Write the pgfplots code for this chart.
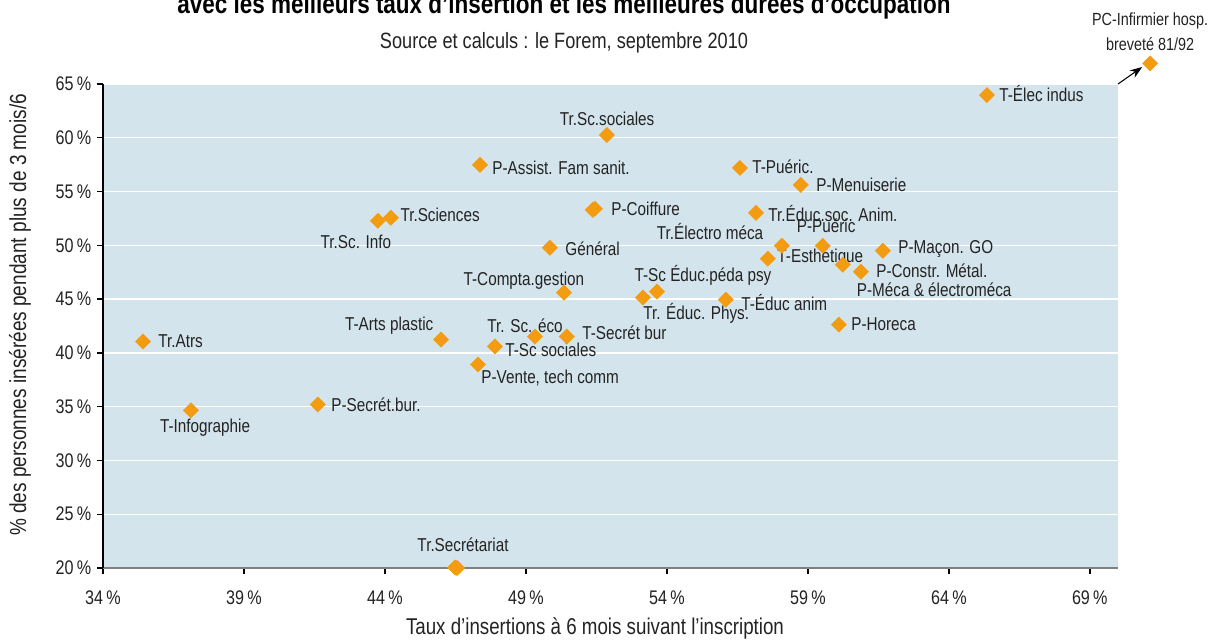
\documentclass[border=0pt]{standalone}
\usepackage{fontspec}
\IfFontExistsTF{Liberation Sans Narrow}{\setmainfont{Liberation Sans Narrow}}{\setmainfont{Liberation Sans}[FakeStretch=0.82]}
\usepackage{pgfplots}
\pgfplotsset{compat=1.18}
\usetikzlibrary{arrows.meta}

\definecolor{bgblue}{RGB}{212,228,236}
\definecolor{mk}{RGB}{243,156,18}
\definecolor{txt}{RGB}{35,35,35}

% taux d'insertion (x, %) / part > 3 mois sur 6 (y, %)
\pgfplotstableread{
x y
65.35 63.97
51.87 60.26
47.37 57.48
56.59 57.20
58.75 55.62
51.37 53.30
51.45 53.40
57.16 53.02
43.75 52.28
44.21 52.56
49.85 49.78
58.08 49.96
59.53 49.96
57.58 48.76
61.66 49.50
60.24 48.20
60.88 47.55
50.35 45.60
53.65 45.70
53.15 45.14
56.09 44.95
60.10 42.63
35.42 41.06
45.99 41.24
49.32 41.52
50.45 41.52
47.90 40.60
47.30 38.92
41.62 35.21
37.12 34.66
46.49 20.05
46.56 20.00
71.14 66.92
}\points

\begin{document}
\begin{tikzpicture}[lab/.style={font=\fontsize{10.6}{12}\selectfont, text=txt, inner sep=0pt}]
\begin{axis}[
  at={(0,0)}, anchor=south west,
  scale only axis,
  width=20.3cm, height=9.68cm,
  xmin=34, xmax=70, ymin=20, ymax=65,
  clip=false,
  axis lines*=left,
  axis line style={-},
  x axis line style={draw=gray, line width=1.4pt},
  y axis line style={draw=black, line width=1.6pt},
  axis background/.style={fill=bgblue},
  xtick={34,39,44,49,54,59,64,69},
  xticklabels={34\,\%,39\,\%,44\,\%,49\,\%,54\,\%,59\,\%,64\,\%,69\,\%},
  ytick={20,25,30,35,40,45,50,55,60,65},
  yticklabels={20\,\%,25\,\%,30\,\%,35\,\%,40\,\%,45\,\%,50\,\%,55\,\%,60\,\%,65\,\%},
  tick align=outside,
  major tick length=0.11cm,
  tick style={black, line width=0.8pt},
  ticklabel style={font=\fontsize{11.2}{13}\selectfont, text=txt},
  xticklabel style={yshift=-0.22cm},
  ymajorgrids,
  y grid style={white, line width=0.8pt},
]
\addplot[only marks, mark=square*, mark size=3pt,
  mark options={rotate=45, fill=mk, draw=mk}] table[x=x, y=y] {\points};

\node[lab, anchor=west] at (axis cs:65.78,64.07) {T-Élec indus};
\node[lab, anchor=west] at (axis cs:47.80,57.19) {P-Assist. Fam sanit.};
\node[lab, anchor=west] at (axis cs:57.02,57.28) {T-Puéric.};
\node[lab, anchor=west] at (axis cs:59.29,55.61) {P-Menuiserie};
\node[lab, anchor=west] at (axis cs:52.02,53.38) {P-Coiffure};
\node[lab, anchor=west] at (axis cs:57.59,53.00) {Tr.Éduc.soc. Anim.};
\node[lab, anchor=west] at (axis cs:44.54,52.82) {Tr.Sciences};
\node[lab, anchor=west] at (axis cs:50.39,49.66) {Général};
\node[lab, anchor=west] at (axis cs:57.91,48.82) {T-Esthétique};
\node[lab, anchor=west] at (axis cs:62.20,49.66) {P-Maçon. GO};
\node[lab, anchor=west] at (axis cs:61.42,47.61) {P-Constr. Métal.};
\node[lab, anchor=west] at (axis cs:56.63,44.64) {T-Éduc anim};
\node[lab, anchor=west] at (axis cs:60.53,42.69) {P-Horeca};
\node[lab, anchor=west] at (axis cs:35.95,41.10) {Tr.Atrs};
\node[lab, anchor=west] at (axis cs:50.99,41.85) {T-Secrét bur};
\node[lab, anchor=west] at (axis cs:48.26,40.27) {T-Sc sociales};
\node[lab, anchor=west] at (axis cs:42.09,35.15) {P-Secrét.bur.};

\node[lab] at (axis cs:51.88,61.74) {Tr.Sc.sociales};
\node[lab] at (axis cs:42.97,50.31) {Tr.Sc. Info};
\node[lab] at (axis cs:55.53,51.33) {Tr.Électro méca};
\node[lab] at (axis cs:59.65,51.80) {P-Puéric};
\node[lab] at (axis cs:63.48,45.85) {P-Méca \& électroméca};
\node[lab] at (axis cs:48.93,46.68) {T-Compta.gestion};
\node[lab] at (axis cs:55.28,47.24) {T-Sc Éduc.péda psy};
\node[lab] at (axis cs:55.04,43.71) {Tr. Éduc. Phys.};
\node[lab] at (axis cs:44.15,42.50) {T-Arts plastic};
\node[lab] at (axis cs:48.97,42.50) {Tr. Sc. éco};
\node[lab] at (axis cs:49.86,37.66) {P-Vente, tech comm};
\node[lab] at (axis cs:37.62,33.02) {T-Infographie};
\node[lab] at (axis cs:46.77,22.14) {Tr.Secrétariat};

\node[lab, align=center, font=\fontsize{10}{14}\selectfont] at (axis cs:71.14,69.85) {PC-Infirmier hosp.\\breveté 81/92};
\draw[-{Stealth[length=7pt,width=5pt]}, line width=0.6pt] (axis cs:70,65) -- (axis cs:70.86,66.58);
\end{axis}

\node[font=\bfseries\fontsize{15.6}{18}\selectfont, text=black, anchor=base] at (9.22cm,11.08cm)
  {avec les meilleurs taux d’insertion et les meilleures durées d’occupation};
\node[font=\fontsize{12.6}{15}\selectfont, text=txt, anchor=base] at (9.22cm,10.38cm)
  {Source et calculs : le Forem, septembre 2010};
\node[font=\fontsize{13}{15}\selectfont, text=txt] at (9.84cm,-1.2cm)
  {Taux d’insertions à 6 mois suivant l’inscription};
\node[font=\fontsize{13.2}{15}\selectfont, text=txt, rotate=90] at (-1.66cm,5.06cm)
  {\% des personnes insérées pendant plus de 3 mois/6};

\pgfresetboundingbox
\useasboundingbox (-2.06cm,-1.42cm) rectangle (22.32cm,11.36cm);
\end{tikzpicture}
\end{document}
